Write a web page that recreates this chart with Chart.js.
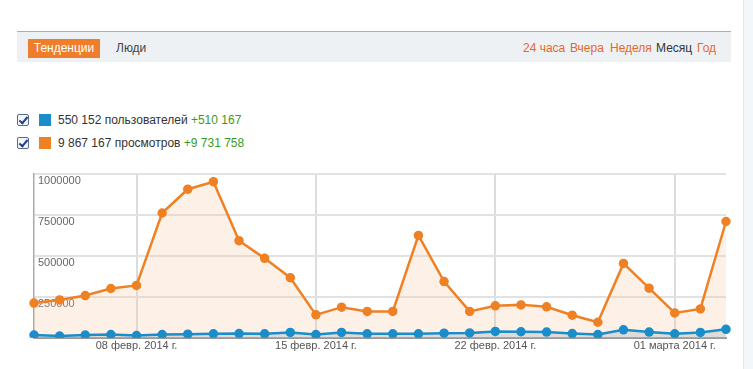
<!DOCTYPE html>
<html>
<head>
<meta charset="utf-8">
<script src="https://cdn.jsdelivr.net/npm/chart.js@4"></script>
<style>
  body { margin: 0; background: #fff; font-family: "Liberation Sans", Arial, sans-serif; width: 753px; height: 369px; overflow: hidden; position: relative; }
  .bar { position: absolute; left: 17px; top: 31px; width: 714px; height: 30px; background: #eef1f3; border-top: 1px solid #a9b0b6; }
  .tab { position: absolute; top: 7px; height: 19px; line-height: 19px; font-size: 12px; white-space: nowrap; }
  .tab.on { left: 11px; width: 72px; background: #ee7d2c; color: #fff; text-align: center; }
  .lnk { position: absolute; top: 7px; font-size: 12px; line-height: 19px; color: #e8672b; white-space: nowrap; }
  .side { position: absolute; left: 743px; top: 0; width: 10px; height: 369px; background: #f1f7fb; border-left: 1px solid #d8e8f1; }
  .leg { position: absolute; left: 17px; font-size: 12px; color: #333; height: 12px; line-height: 12px; }
  .chk { position: absolute; left: 0; top: 0; width: 10px; height: 10px; border: 1px solid #5a6a86; border-radius: 2px; background: #f4f6fb; }
  .chk:after { content: ""; position: absolute; left: 3px; top: 0px; width: 3px; height: 7px; border: solid #1d3f8f; border-width: 0 2px 2px 0; transform: rotate(40deg); }
  .sq { position: absolute; left: 22px; top: 0; width: 12px; height: 12px; }
  .txt { position: absolute; left: 41px; top: 0; white-space: nowrap; }
  .txt b { font-weight: normal; color: #3a9a1f; }
  #wrap { position: absolute; left: 0; top: 150px; width: 753px; height: 205px; }
</style>
</head>
<body>
<div class="bar">
  <div class="tab on">Тенденции</div>
  <div class="tab" style="left:99px;color:#444">Люди</div>
  <div class="lnk" style="left:506px">24 часа</div>
  <div class="lnk" style="left:553px">Вчера</div>
  <div class="lnk" style="left:593px">Неделя</div>
  <div class="lnk" style="left:639px;color:#333">Месяц</div>
  <div class="lnk" style="left:680px">Год</div>
</div>
<div class="side"></div>
<div class="leg" style="top:114px"><div class="chk"></div><div class="sq" style="background:#1a8dca"></div><div class="txt">550 152 пользователей <b>+510 167</b></div></div>
<div class="leg" style="top:137px"><div class="chk"></div><div class="sq" style="background:#ef8125"></div><div class="txt">9 867 167 просмотров <b>+9 731 758</b></div></div>
<div id="wrap"><canvas id="chart"></canvas></div>
<script>
const days = [
  '04 февр. 2014 г.', '05 февр. 2014 г.', '06 февр. 2014 г.', '07 февр. 2014 г.',
  '08 февр. 2014 г.', '09 февр. 2014 г.', '10 февр. 2014 г.', '11 февр. 2014 г.',
  '12 февр. 2014 г.', '13 февр. 2014 г.', '14 февр. 2014 г.', '15 февр. 2014 г.',
  '16 февр. 2014 г.', '17 февр. 2014 г.', '18 февр. 2014 г.', '19 февр. 2014 г.',
  '20 февр. 2014 г.', '21 февр. 2014 г.', '22 февр. 2014 г.', '23 февр. 2014 г.',
  '24 февр. 2014 г.', '25 февр. 2014 г.', '26 февр. 2014 г.', '27 февр. 2014 г.',
  '28 февр. 2014 г.', '01 марта 2014 г.', '02 марта 2014 г.', '03 марта 2014 г.'
];
const shownLabels = ['08 февр. 2014 г.', '15 февр. 2014 г.', '22 февр. 2014 г.', '01 марта 2014 г.'];

const users = [
  17000, 11000, 17000, 20000, 14000, 20000, 22000, 24000, 26000, 24000,
  33000, 20000, 33000, 24000, 24000, 24000, 28000, 30000, 39000, 37000,
  35000, 26000, 20000, 49000, 35000, 24000, 33000, 52000
];
const views = [
  212000, 231000, 258000, 301000, 320000, 762000, 907000, 953000, 593000, 485000,
  367000, 140000, 187000, 161000, 161000, 625000, 343000, 161000, 195000, 201000,
  189000, 138000, 95000, 454000, 303000, 152000, 176000, 710000
];
const yTicks = [250000, 500000, 750000, 1000000];

const isShown = i => shownLabels.includes(days[i]);

new Chart(document.getElementById('chart'), {
  type: 'line',
  data: {
    labels: days,
    datasets: [
      {
        label: 'пользователи',
        data: users,
        borderColor: '#1a8dca',
        backgroundColor: 'rgba(195,198,200,0.5)',
        pointBackgroundColor: '#1a8dca',
        pointBorderColor: '#1a8dca',
        fill: 'origin',
        borderWidth: 2.5,
        pointRadius: 3.5,
        tension: 0
      },
      {
        label: 'просмотры',
        data: views,
        borderColor: '#ef8125',
        backgroundColor: 'rgba(248,200,160,0.25)',
        pointBackgroundColor: '#ef8125',
        pointBorderColor: '#ef8125',
        fill: 'origin',
        borderWidth: 2.5,
        pointRadius: 3.5,
        tension: 0
      }
    ]
  },
  options: {
    responsive: true,
    maintainAspectRatio: false,
    animation: false,
    layout: { padding: { left: 26, right: 27, top: 24, bottom: 0 } },
    plugins: { legend: { display: false }, tooltip: { enabled: false } },
    scales: {
      x: {
        offset: false,
        grid: {
          color: ctx => (ctx.index !== undefined && isShown(ctx.index)) ? '#dcdcdc' : 'rgba(0,0,0,0)',
          lineWidth: 2,
          drawTicks: false
        },
        border: { color: '#999', width: 2 },
        ticks: {
          autoSkip: false,
          maxRotation: 0,
          padding: 2,
          color: '#555',
          font: { family: 'Liberation Sans', size: 11 },
          callback: (v, i) => isShown(i) ? days[i] : ''
        }
      },
      y: {
        min: 0,
        max: 1000000,
        afterBuildTicks: axis => { axis.ticks = [0].concat(yTicks).map(v => ({ value: v })); },
        grid: { color: '#e2e2e2', lineWidth: 2, drawTicks: false },
        border: { color: '#aaa', width: 1.5 },
        ticks: {
          mirror: true,
          padding: 4,
          labelOffset: 7,
          color: '#666',
          font: { family: 'Liberation Sans', size: 11 },
          callback: v => v === 0 ? '' : String(v)
        }
      }
    }
  }
});
</script>
</body>
</html>
